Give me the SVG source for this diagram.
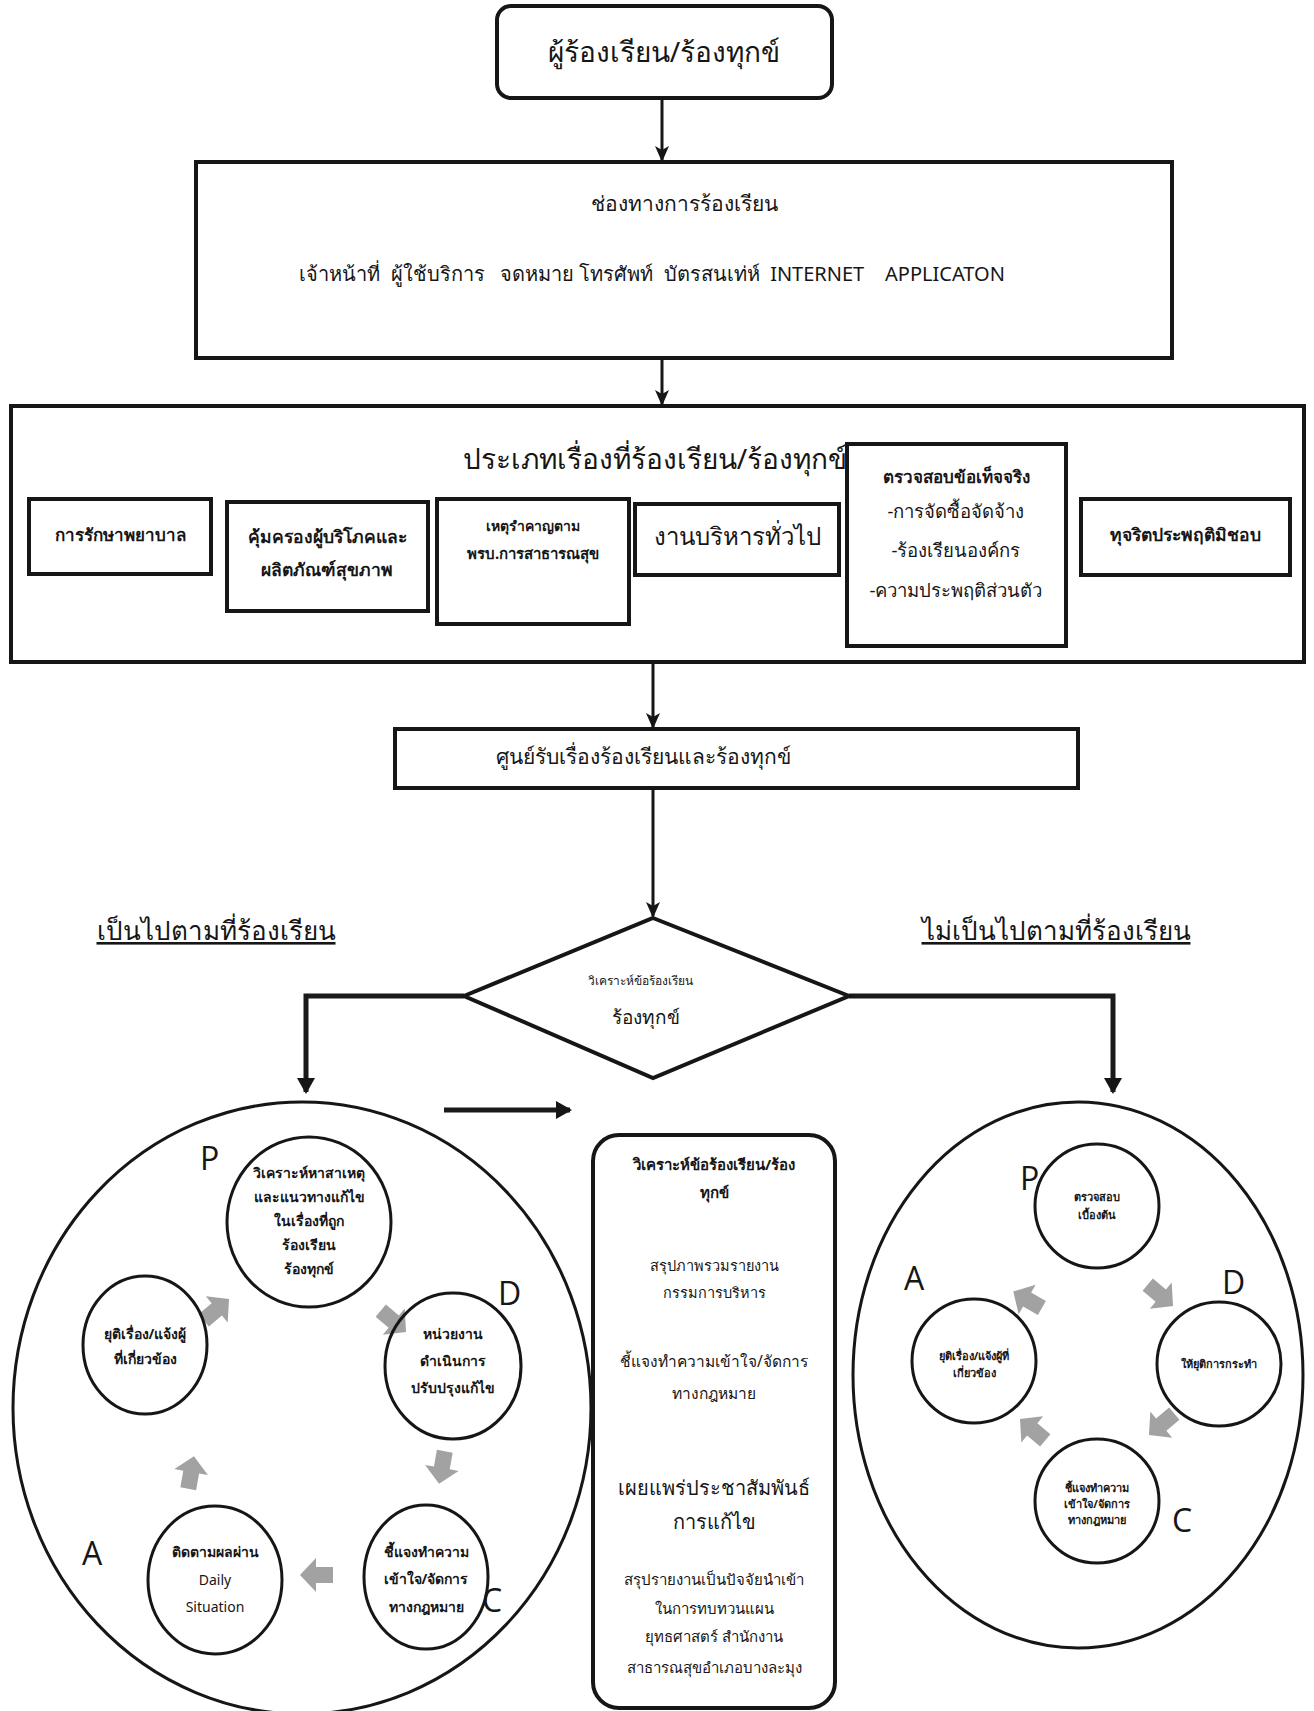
<svg xmlns="http://www.w3.org/2000/svg" width="1314" height="1711" viewBox="0 0 1314 1711">
<style>
.box{fill:#fff;stroke:#161616;stroke-width:4}
.cn{stroke:#161616;stroke-width:3;fill:none}
.thick{stroke:#1a1a1a;stroke-width:5;fill:none}
.t{font-family:"Noto Sans",sans-serif;fill:#161616;text-anchor:middle}
.b{font-weight:bold}
.ring{fill:none;stroke:#161616;stroke-width:3}
.ga{fill:#a2a2a2}
.lt{font-family:"Open Sans",sans-serif;font-size:32px;fill:#161616}
.u{text-decoration:underline}
</style>
<defs>
<marker id="ah" markerWidth="16" markerHeight="16" refX="14" refY="8" orient="auto" markerUnits="userSpaceOnUse">
<path d="M0,1 L16,8 L0,15 L4,8 z" fill="#161616"/>
</marker>
<marker id="ahb" markerWidth="16" markerHeight="18" refX="14" refY="9" orient="auto" markerUnits="userSpaceOnUse">
<path d="M0,0 L16,9 L0,18 z" fill="#161616"/>
</marker>
<polygon id="garr" points="-16,-8 1,-8 1,-17 17,0 1,17 1,8 -16,8"/>
</defs>

<g id="connectors">
<line class="cn" x1="662" y1="98" x2="662" y2="160" marker-end="url(#ah)"/>
<line class="cn" x1="662" y1="358" x2="662" y2="404" marker-end="url(#ah)"/>
<line class="cn" x1="653" y1="662" x2="653" y2="727" marker-end="url(#ah)"/>
<line class="cn" x1="653" y1="788" x2="653" y2="916" marker-end="url(#ah)"/>
<polyline class="thick" points="464,996 306,996 306,1092" marker-end="url(#ahb)"/>
<polyline class="thick" points="849,996 1113,996 1113,1092" marker-end="url(#ahb)"/>
<line class="thick" x1="444" y1="1110" x2="570" y2="1110" marker-end="url(#ahb)"/>
</g>

<g id="n-complainant">
<rect class="box" x="497" y="6" width="335" height="92" rx="14"/>
<text class="t" x="664" y="62" font-size="28">ผู้ร้องเรียน/ร้องทุกข์</text>
</g>

<g id="n-channels">
<rect class="box" x="196" y="162" width="976" height="196"/>
<text class="t" x="684" y="211" font-size="21">ช่องทางการร้องเรียน</text>
<text class="t" x="652" y="281" font-size="20" xml:space="preserve">เจ้าหน้าที่  ผู้ใช้บริการ   จดหมาย โทรศัพท์  บัตรสนเท่ห์  INTERNET    APPLICATON</text>
</g>

<g id="n-types">
<rect class="box" x="11" y="406" width="1293" height="256"/>
</g>
<g id="n-medical">
<rect class="box" x="29" y="499" width="182" height="75"/>
<text class="t b" x="120" y="541" font-size="17">การรักษาพยาบาล</text>
</g>
<g id="n-consumer">
<rect class="box" x="227" y="502" width="201" height="109"/>
<text class="t b" x="327" y="543" font-size="17.5">คุ้มครองผู้บริโภคและ</text>
<text class="t b" x="327" y="576" font-size="17.5">ผลิตภัณฑ์สุขภาพ</text>
</g>
<g id="n-nuisance">
<rect class="box" x="437" y="499" width="192" height="125"/>
<text class="t b" x="533" y="531" font-size="14">เหตุรำคาญตาม</text>
<text class="t b" x="533" y="559" font-size="15">พรบ.การสาธารณสุข</text>
</g>
<g id="n-admin">
<rect class="box" x="635" y="504" width="204" height="71"/>
<text class="t" x="737" y="545" font-size="24">งานบริหารทั่วไป</text>
</g>
<g id="n-facts">
<rect class="box" x="847" y="444" width="219" height="202"/>
<text class="t b" x="956" y="483" font-size="17">ตรวจสอบข้อเท็จจริง</text>
<text class="t" x="956" y="518" font-size="18.5">-การจัดซื้อจัดจ้าง</text>
<text class="t" x="956" y="557" font-size="18.5">-ร้องเรียนองค์กร</text>
<text class="t" x="956" y="597" font-size="18.5">-ความประพฤติส่วนตัว</text>
</g>
<g id="n-types-title">
<text class="t" x="655" y="469" font-size="28">ประเภทเรื่องที่ร้องเรียน/ร้องทุกข์</text>
</g>
<g id="n-corruption">
<rect class="box" x="1081" y="499" width="209" height="76"/>
<text class="t b" x="1185" y="541" font-size="17.5">ทุจริตประพฤติมิชอบ</text>
</g>

<g id="n-center">
<rect class="box" x="395" y="729" width="683" height="59"/>
<text class="t" x="643" y="764" font-size="21">ศูนย์รับเรื่องร้องเรียนและร้องทุกข์</text>
</g>

<g id="n-decision">
<polygon class="box" points="653,918 849,996 653,1078 464,996"/>
<text class="t" x="640" y="985" font-size="12">วิเคราะห์ข้อร้องเรียน</text>
<text class="t" x="646" y="1024" font-size="19">ร้องทุกข์</text>
</g>

<g id="l-yes"><text class="t u" x="216" y="940" font-size="26">เป็นไปตามที่ร้องเรียน</text></g>
<g id="l-no"><text class="t u" x="1056" y="940" font-size="26">ไม่เป็นไปตามที่ร้องเรียน</text></g>

<g id="n-left-cycle">
<ellipse class="ring" cx="302" cy="1408" rx="289" ry="306"/>
<text class="lt" x="200" y="1170">P</text>
<text class="lt" x="498" y="1305">D</text>
<text class="lt" x="482" y="1612">C</text>
<text class="lt" x="82" y="1565">A</text>
<use href="#garr" class="ga" transform="translate(393,1321) rotate(40)"/>
<use href="#garr" class="ga" transform="translate(442,1467) rotate(100)"/>
<use href="#garr" class="ga" transform="translate(317,1575) rotate(180)"/>
<use href="#garr" class="ga" transform="translate(191,1473) rotate(-80)"/>
<use href="#garr" class="ga" transform="translate(216,1310) rotate(-40)"/>
</g>
<g id="n-lp">
<ellipse class="ring" cx="309" cy="1222" rx="82" ry="85"/>
<text class="t b" x="309" y="1178" font-size="14">วิเคราะห์หาสาเหตุ</text>
<text class="t b" x="309" y="1202" font-size="14">และแนวทางแก้ไข</text>
<text class="t b" x="309" y="1226" font-size="14">ในเรื่องที่ถูก</text>
<text class="t b" x="309" y="1250" font-size="14">ร้องเรียน</text>
<text class="t b" x="309" y="1274" font-size="14">ร้องทุกข์</text>
</g>
<g id="n-ld">
<ellipse class="ring" cx="453" cy="1366" rx="68" ry="73"/>
<text class="t b" x="453" y="1339" font-size="14">หน่วยงาน</text>
<text class="t b" x="453" y="1366" font-size="14">ดำเนินการ</text>
<text class="t b" x="453" y="1393" font-size="14">ปรับปรุงแก้ไข</text>
</g>
<g id="n-lc">
<ellipse class="ring" cx="426" cy="1577" rx="62" ry="72"/>
<text class="t b" x="426" y="1557" font-size="14">ชี้แจงทำความ</text>
<text class="t b" x="426" y="1584" font-size="14">เข้าใจ/จัดการ</text>
<text class="t b" x="426" y="1612" font-size="14">ทางกฎหมาย</text>
</g>
<g id="n-la">
<ellipse class="ring" cx="215" cy="1580" rx="67" ry="74"/>
<text class="t b" x="215" y="1557" font-size="14">ติดตามผลผ่าน</text>
<text class="t" x="215" y="1585" font-size="14">Daily</text>
<text class="t" x="215" y="1612" font-size="14">Situation</text>
</g>
<g id="n-lend">
<ellipse class="ring" cx="145" cy="1345" rx="62" ry="69"/>
<text class="t b" x="145" y="1339" font-size="14">ยุติเรื่อง/แจ้งผู้</text>
<text class="t b" x="145" y="1364" font-size="14">ที่เกี่ยวข้อง</text>
</g>

<g id="n-summary">
<rect class="box" x="593" y="1135" width="242" height="573" rx="26"/>
<text class="t b" x="714" y="1170" font-size="15">วิเคราะห์ข้อร้องเรียน/ร้อง</text>
<text class="t b" x="714" y="1198" font-size="15">ทุกข์</text>
<text class="t" x="714" y="1271" font-size="14.5">สรุปภาพรวมรายงาน</text>
<text class="t" x="714" y="1298" font-size="14.5">กรรมการบริหาร</text>
<text class="t" x="714" y="1367" font-size="15.5">ชี้แจงทำความเข้าใจ/จัดการ</text>
<text class="t" x="714" y="1399" font-size="15.5">ทางกฎหมาย</text>
<text class="t" x="714" y="1495" font-size="20">เผยแพร่ประชาสัมพันธ์</text>
<text class="t" x="714" y="1529" font-size="20">การแก้ไข</text>
<text class="t" x="714" y="1585" font-size="15">สรุปรายงานเป็นปัจจัยนำเข้า</text>
<text class="t" x="714" y="1614" font-size="15">ในการทบทวนแผน</text>
<text class="t" x="714" y="1642" font-size="15">ยุทธศาสตร์ สำนักงาน</text>
<text class="t" x="714" y="1673" font-size="15">สาธารณสุขอำเภอบางละมุง</text>
</g>

<g id="n-right-cycle">
<ellipse class="ring" cx="1078" cy="1375" rx="225" ry="273"/>
<text class="lt" x="1020" y="1190">P</text>
<text class="lt" x="1222" y="1294">D</text>
<text class="lt" x="1172" y="1532">C</text>
<text class="lt" x="904" y="1290">A</text>
<use href="#garr" class="ga" transform="translate(1160,1295) rotate(40)"/>
<use href="#garr" class="ga" transform="translate(1162,1424) rotate(140)"/>
<use href="#garr" class="ga" transform="translate(1033,1430) rotate(-140)"/>
<use href="#garr" class="ga" transform="translate(1028,1300) rotate(-150)"/>
</g>
<g id="n-rp">
<circle class="ring" cx="1097" cy="1206" r="62"/>
<text class="t b" x="1097" y="1201" font-size="11">ตรวจสอบ</text>
<text class="t b" x="1097" y="1219" font-size="11">เบื้องต้น</text>
</g>
<g id="n-rd">
<circle class="ring" cx="1219" cy="1364" r="62"/>
<text class="t b" x="1219" y="1368" font-size="11">ให้ยุติการกระทำ</text>
</g>
<g id="n-rc">
<circle class="ring" cx="1097" cy="1501" r="62"/>
<text class="t b" x="1097" y="1492" font-size="11">ชี้แจงทำความ</text>
<text class="t b" x="1097" y="1508" font-size="11">เข้าใจ/จัดการ</text>
<text class="t b" x="1097" y="1524" font-size="11">ทางกฎหมาย</text>
</g>
<g id="n-ra">
<circle class="ring" cx="974" cy="1361" r="62"/>
<text class="t b" x="974" y="1360" font-size="11">ยุติเรื่อง/แจ้งผู้ที่</text>
<text class="t b" x="974" y="1377" font-size="11">เกี่ยวข้อง</text>
</g>
</svg>
